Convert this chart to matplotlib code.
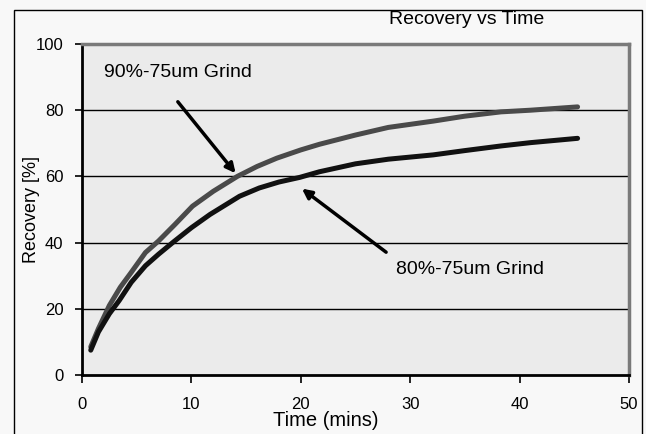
import numpy as np
import matplotlib.pyplot as plt
from matplotlib.patches import Rectangle

plt.rcParams['font.family'] = ['Liberation Sans', 'DejaVu Sans']

# recovery curves
t_90 = [0.8, 1.5, 2.5, 3.5, 4.5, 5.8, 7.0, 8.5, 10.1, 12.0, 14.2, 16.0, 17.8, 20.0, 21.7, 25.0, 28.0, 32.1, 35.0, 38.3, 41.0, 45.3]
r_90 = [8.5, 14.0, 21.0, 26.5, 31.0, 37.0, 40.5, 45.5, 51.0, 55.5, 60.0, 63.0, 65.5, 68.0, 69.7, 72.5, 74.8, 76.7, 78.2, 79.5, 80.0, 81.0]

t_80 = [0.8, 1.5, 2.5, 3.4, 4.5, 5.8, 7.0, 8.4, 10.0, 11.7, 14.4, 16.2, 18.0, 19.9, 21.7, 25.0, 28.0, 32.1, 35.0, 38.3, 41.0, 45.3]
r_80 = [7.5, 13.0, 18.5, 22.5, 28.0, 33.0, 36.5, 40.3, 44.5, 48.5, 54.0, 56.5, 58.3, 59.7, 61.4, 63.8, 65.2, 66.5, 67.8, 69.2, 70.2, 71.5]

xticks = [0, 10, 20, 30, 40, 50]
yticks = [0, 20, 40, 60, 80, 100]

fig = plt.figure(figsize=(6.46, 4.34), dpi=100, facecolor='#f8f8f8')
fig.patches.append(Rectangle((14 / 646, -10 / 434), 628 / 646, 434 / 434, transform=fig.transFigure,
                             fill=False, edgecolor='black', linewidth=1.0))

ax = fig.add_axes([82 / 646, 1 - 375 / 434, 547 / 646, 331 / 434])
ax.set_facecolor('#ebebeb')
ax.set_xlim(0, 50)
ax.set_ylim(0, 100)

for y in yticks[1:-1]:
    ax.axhline(y, color='black', linewidth=1.0, zorder=1)

ax.plot(t_90, r_90, color='#4a4a4a', linewidth=3.6, solid_capstyle='round', zorder=3)
ax.plot(t_80, r_80, color='#111111', linewidth=3.6, solid_capstyle='round', zorder=3)

ax.annotate('', xy=(14.2, 60.3), xytext=(8.6, 83.2),
            arrowprops=dict(arrowstyle='-|>', color='black', lw=2.5, mutation_scale=14), zorder=4)
ax.annotate('', xy=(19.9, 56.8), xytext=(28.0, 36.6),
            arrowprops=dict(arrowstyle='-|>', color='black', lw=2.5, mutation_scale=14), zorder=4)

ax.text(2.0, 91.3, '90%-75um Grind', fontsize=14, va='center', ha='left')
ax.text(28.7, 32.0, '80%-75um Grind', fontsize=14, va='center', ha='left')

ax.set_xticks(xticks)
ax.set_yticks(yticks)
ax.tick_params(axis='y', direction='out', length=5, width=1.2, labelsize=12, color='black', pad=8.5)
ax.tick_params(axis='x', direction='out', length=6, width=1.2, labelsize=12, color='black', pad=10)
ax.spines['left'].set_linewidth(2)
ax.spines['bottom'].set_linewidth(2)
ax.spines['top'].set_color('#7a7a7a')
ax.spines['top'].set_linewidth(2.5)
ax.spines['right'].set_color('#7a7a7a')
ax.spines['right'].set_linewidth(2.5)

ax.set_xlabel('Time (mins)', fontsize=14.5)
ax.xaxis.set_label_coords((326 - 82) / 547, -(421 - 375) / 331)
ax.xaxis.label.set_va('center')
ax.set_ylabel('Recovery [%]', fontsize=13)
ax.yaxis.set_label_coords(-(82 - 31) / 547, 0.5)
ax.yaxis.label.set_va('center')

fig.text(467 / 646, 1 - 20 / 434, 'Recovery vs Time', fontsize=14, ha='center', va='center')

fig.savefig('out.png', dpi=100, facecolor=fig.get_facecolor())
